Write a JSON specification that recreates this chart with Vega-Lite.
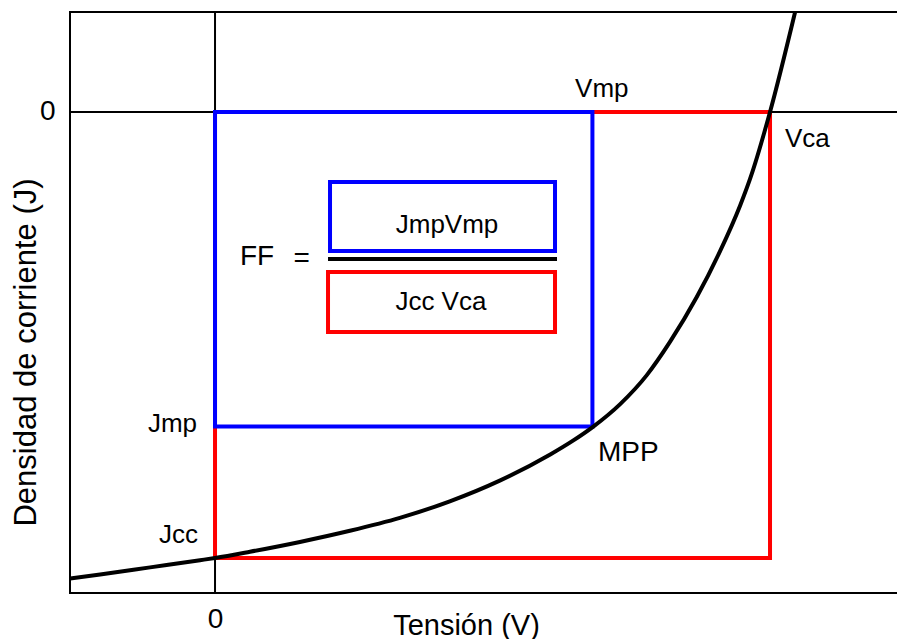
{
  "$schema": "https://vega.github.io/schema/vega-lite/v6.json",
  "width": 830,
  "height": 581,
  "autosize": {"type": "none"},
  "padding": {"left": 70, "top": 12, "right": 0, "bottom": 46},
  "background": "white",
  "config": {
    "view": {"stroke": "black", "strokeWidth": 2},
    "font": "Liberation Sans",
    "text": {"font": "Liberation Sans", "color": "black"}
  },
  "datasets": {
    "curve": [
      {"V": -0.261, "J": -1.046},
      {"V": -0.207, "J": -1.037},
      {"V": -0.117, "J": -1.021},
      {"V": -0.027, "J": -1.005},
      {"V": 0.0, "J": -1.0},
      {"V": 0.063, "J": -0.986},
      {"V": 0.153, "J": -0.964},
      {"V": 0.243, "J": -0.939},
      {"V": 0.333, "J": -0.91},
      {"V": 0.423, "J": -0.873},
      {"V": 0.514, "J": -0.826},
      {"V": 0.604, "J": -0.768},
      {"V": 0.645, "J": -0.737},
      {"V": 0.681, "J": -0.706},
      {"V": 0.73, "J": -0.655},
      {"V": 0.778, "J": -0.59},
      {"V": 0.82, "J": -0.515},
      {"V": 0.868, "J": -0.415},
      {"V": 0.91, "J": -0.312},
      {"V": 0.946, "J": -0.21},
      {"V": 0.964, "J": -0.15},
      {"V": 1.0, "J": 0.0},
      {"V": 1.045, "J": 0.223}
    ],
    "bigBoxes": [
      {"kind": "JccVca", "v1": 0, "v2": 1.0, "j1": 0, "j2": -1.0},
      {"kind": "JmpVmp", "v1": 0, "v2": 0.68, "j1": 0, "j2": -0.705}
    ],
    "formulaBoxes": [
      {"kind": "JmpVmp", "v1": 0.2072, "v2": 0.6126, "j1": -0.157, "j2": -0.3117},
      {"kind": "JccVca", "v1": 0.2036, "v2": 0.6126, "j1": -0.3587, "j2": -0.4933}
    ]
  },
  "encoding": {
    "x": {"type": "quantitative"},
    "y": {"type": "quantitative"}
  },
  "layer": [
    {
      "data": {"values": [{"V": 0}]},
      "mark": {"type": "rule", "color": "black", "strokeWidth": 2},
      "encoding": {
        "x": {
          "field": "V", "type": "quantitative",
          "scale": {"domain": [-0.2613, 1.2342], "nice": false, "zero": false},
          "axis": {
            "values": [0], "format": "d", "ticks": false, "tickSize": 0, "domain": false, "grid": false,
            "labelFontSize": 28, "labelPadding": 12, "labelFont": "Liberation Sans", "labelColor": "black",
            "title": "Tensión (V)", "titleFontSize": 29, "titleFontWeight": "normal", "titleFont": "Liberation Sans",
            "titleColor": "black", "titleX": 396, "titleY": 41, "titleBaseline": "alphabetic", "titleAlign": "center"
          }
        }
      }
    },
    {
      "data": {"values": [{"J": 0}]},
      "mark": {"type": "rule", "color": "black", "strokeWidth": 2},
      "encoding": {
        "y": {
          "field": "J", "type": "quantitative",
          "scale": {"domain": [-1.0785, 0.2242], "nice": false, "zero": false},
          "axis": {
            "values": [0], "format": "d", "ticks": false, "tickSize": 0, "domain": false, "grid": false,
            "labelFontSize": 28, "labelPadding": 15, "labelFont": "Liberation Sans", "labelColor": "black",
            "title": "Densidad de corriente (J)", "titleFontSize": 31, "titleFontWeight": "normal", "titleFont": "Liberation Sans",
            "titleColor": "black", "titleAngle": -90, "titleX": -35, "titleY": 340, "titleBaseline": "alphabetic", "titleAlign": "center"
          }
        }
      }
    },
    {
      "data": {"name": "bigBoxes"},
      "mark": {"type": "rect", "filled": false, "strokeWidth": 4},
      "encoding": {
        "x": {"field": "v1", "type": "quantitative"},
        "x2": {"field": "v2"},
        "y": {"field": "j1", "type": "quantitative"},
        "y2": {"field": "j2"},
        "stroke": {"field": "kind", "type": "nominal", "scale": {"domain": ["JmpVmp", "JccVca"], "range": ["#0000ff", "#ff0000"]}, "legend": null}
      }
    },
    {
      "data": {"name": "curve"},
      "mark": {"type": "line", "color": "black", "strokeWidth": 4, "interpolate": "monotone"},
      "encoding": {
        "x": {"field": "V", "type": "quantitative"},
        "y": {"field": "J", "type": "quantitative"}
      }
    },
    {
      "data": {"name": "formulaBoxes"},
      "mark": {"type": "rect", "filled": false, "strokeWidth": 4},
      "encoding": {
        "x": {"field": "v1", "type": "quantitative"},
        "x2": {"field": "v2"},
        "y": {"field": "j1", "type": "quantitative"},
        "y2": {"field": "j2"},
        "stroke": {"field": "kind", "type": "nominal", "scale": {"domain": ["JmpVmp", "JccVca"], "range": ["#0000ff", "#ff0000"]}, "legend": null}
      }
    },
    {
      "data": {"values": [{"v1": 0.2036, "v2": 0.6162, "j": -0.3296}]},
      "mark": {"type": "rule", "color": "black", "strokeWidth": 4},
      "encoding": {
        "x": {"field": "v1", "type": "quantitative"},
        "x2": {"field": "v2"},
        "y": {"field": "j", "type": "quantitative"}
      }
    },
    {
      "data": {"values": [
        {"label": "Vmp", "V": 0.697, "J": 0.034},
        {"label": "JmpVmp", "V": 0.418, "J": -0.2713},
        {"label": "Jcc Vca", "V": 0.407, "J": -0.444}
      ]},
      "mark": {"type": "text", "fontSize": 26, "align": "center", "baseline": "alphabetic"},
      "encoding": {
        "x": {"field": "V", "type": "quantitative"},
        "y": {"field": "J", "type": "quantitative"},
        "text": {"field": "label"}
      }
    },
    {
      "data": {"values": [
        {"label": "Vca", "V": 1.027, "J": -0.0785}
      ]},
      "mark": {"type": "text", "fontSize": 26, "align": "left", "baseline": "alphabetic"},
      "encoding": {
        "x": {"field": "V", "type": "quantitative"},
        "y": {"field": "J", "type": "quantitative"},
        "text": {"field": "label"}
      }
    },
    {
      "data": {"values": [
        {"label": "Jmp", "V": -0.0324, "J": -0.7175},
        {"label": "Jcc", "V": -0.0306, "J": -0.966}
      ]},
      "mark": {"type": "text", "fontSize": 26, "align": "right", "baseline": "alphabetic"},
      "encoding": {
        "x": {"field": "V", "type": "quantitative"},
        "y": {"field": "J", "type": "quantitative"},
        "text": {"field": "label"}
      }
    },
    {
      "data": {"values": [
        {"label": "MPP", "V": 0.69, "J": -0.7825},
        {"label": "FF", "V": 0.045, "J": -0.343}
      ]},
      "mark": {"type": "text", "fontSize": 28, "align": "left", "baseline": "alphabetic"},
      "encoding": {
        "x": {"field": "V", "type": "quantitative"},
        "y": {"field": "J", "type": "quantitative"},
        "text": {"field": "label"}
      }
    },
    {
      "data": {"values": [
        {"label": "=", "V": 0.156, "J": -0.348}
      ]},
      "mark": {"type": "text", "fontSize": 28, "align": "center", "baseline": "alphabetic"},
      "encoding": {
        "x": {"field": "V", "type": "quantitative"},
        "y": {"field": "J", "type": "quantitative"},
        "text": {"field": "label"}
      }
    }
  ]
}
